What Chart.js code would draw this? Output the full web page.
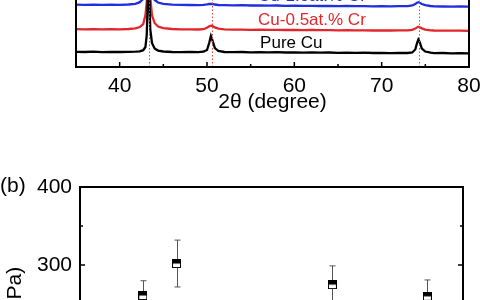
<!DOCTYPE html>
<html><head><meta charset="utf-8">
<script src="https://cdn.jsdelivr.net/npm/chart.js@4.4.1/dist/chart.umd.min.js"></script>
<style>
html,body{margin:0;padding:0;background:#fff;}
#wrap{position:relative;width:480px;height:300px;overflow:hidden;background:#fff;}
canvas{position:absolute;left:0;}
#c1{top:-60px;} #c2{top:160px;}
</style></head><body>
<div id="wrap"><canvas id="c1" width="520" height="180"></canvas><canvas id="c2" width="520" height="360"></canvas></div>
<script>
// ---- Panel (a): XRD patterns ----
const twoTheta = [35,36,37,38,39,40,41,41.8,42.3,42.7,42.95,43.1,43.2,43.3,43.4,43.5,43.7,44.0,44.4,45,46,47,48,49,49.6,50.0,50.25,50.45,50.65,50.9,51.3,52,53,54,55,56,57,58,59,60,61,62,63,64,65,66,67,68,69,70,71,72,73,73.5,73.85,74.05,74.2,74.35,74.6,75.0,75.6,76,77,78,79,80];
const pureCu = [15.2,15.0,15.3,14.9,15.1,15.0,15.2,15.3,15.6,16.8,20,32,60,150,75,38,24,18.5,16.4,15.5,15.0,14.9,15.1,14.8,15.3,17,24,31,26,19,16,15.0,14.8,15.0,14.7,14.9,14.6,14.8,14.5,14.7,14.4,14.6,14.3,14.5,14.2,14.4,14.1,14.3,14.0,14.2,13.9,14.1,14.0,14.5,17.5,24,27.5,25,18.5,15.5,14.3,13.9,14.0,13.7,13.9,13.6];
const cu05Cr = [37.8,37.6,37.9,37.6,37.8,37.7,38.0,38.6,40.0,43.0,52,65,85,170,115,70,52,44,40.5,38.8,38.0,37.7,37.6,37.5,37.8,39.3,40.8,41.4,40.9,39.6,38.3,37.6,37.3,37.4,37.2,37.3,37.1,37.2,37.0,37.1,36.9,37.0,36.8,36.9,36.7,36.8,36.6,36.7,36.5,36.6,36.5,36.6,36.7,37.2,38.4,39.6,40.2,39.7,38.6,37.4,36.7,36.5,36.4,36.3,36.4,36.2];
const cu10Cr = [62.4,62.2,62.4,62.1,62.3,62.2,62.5,63.2,64.8,68,76,88,112,190,135,88,73,67,64.5,63.2,62.4,62.1,62.0,61.9,62.1,62.6,63.0,63.2,63.0,62.5,62.0,61.8,61.7,61.8,61.5,61.6,61.4,61.5,61.2,61.3,61.1,61.2,61.0,61.1,60.9,61.0,60.8,60.9,60.7,60.8,60.6,60.8,60.9,61.5,63.0,64.3,64.8,64.3,63.0,61.8,61.0,60.7,60.5,60.4,60.5,60.3];
const seriesNames = ['Pure Cu','Cu-0.5at.% Cr','Cu-1.0at.% Cr'];
const peakLines = [43.35, 50.53, 74.31];
const xrdTicks = [40,50,60,70,80];
const xrdMinorTicks = [45,55,65,75];

// ---- Panel (b) ----
const samplePos = [1.64, 2.52, 6.59, 9.07];
const hardness = [261, 302, 275, 260];
const hardnessErr = [19, 30, 24, 21];
const hardnessTicks = [0,100,200,300,400];
const hardnessMinor = [50,150,250,350];

const F = '"Liberation Sans", Arial, Helvetica, sans-serif';
const RED = '#e2262b', BLUE = '#1f2ee0', BLACK = '#000';

const toXY = arr => twoTheta.map((x,i)=>({x, y: arr[i]}));

const xrdPlugin = {
  id:'xrdDeco',
  afterDatasetsDraw(chart){
    const {ctx, chartArea:a, scales:{x, y}} = chart;
    ctx.save();
    ctx.strokeStyle = '#d8454a'; ctx.lineWidth = 1; ctx.setLineDash([1.5,2]);
    peakLines.forEach(v=>{ const px = Math.round(x.getPixelForValue(v))+0.5; ctx.beginPath(); ctx.moveTo(px,a.bottom); ctx.lineTo(px,a.top); ctx.stroke(); });
    ctx.setLineDash([]);
    ctx.strokeStyle = BLACK; ctx.lineWidth = 2;
    ctx.strokeRect(a.left, a.top, a.right-a.left, a.bottom-a.top);
    ctx.lineWidth = 1.5;
    const tick = (v,len)=>{ const px = x.getPixelForValue(v); ctx.beginPath(); ctx.moveTo(px,a.bottom); ctx.lineTo(px,a.bottom-len); ctx.moveTo(px,a.top); ctx.lineTo(px,a.top+len); ctx.stroke(); };
    xrdTicks.forEach(v=>tick(v,5)); xrdMinorTicks.forEach(v=>tick(v,3));
    ctx.font = '17px '+F; ctx.textAlign='left'; ctx.textBaseline='middle';
    const lx = x.getPixelForValue(55.85);
    ctx.fillStyle = BLACK; ctx.fillText(seriesNames[0], lx+2, y.getPixelForValue(23.5));
    ctx.fillStyle = RED; ctx.fillText(seriesNames[1], lx, y.getPixelForValue(46.5));
    ctx.fillStyle = BLUE; ctx.fillText(seriesNames[2], lx, y.getPixelForValue(70.5));
    ctx.restore();
  }
};

new Chart(document.getElementById('c1'), {
  type:'line',
  data:{datasets:[
    {label:seriesNames[0], data:toXY(pureCu), borderColor:BLACK, borderWidth:2.3, pointRadius:0, tension:0},
    {label:seriesNames[1], data:toXY(cu05Cr), borderColor:RED, borderWidth:2.3, pointRadius:0, tension:0},
    {label:seriesNames[2], data:toXY(cu10Cr), borderColor:BLUE, borderWidth:2.3, pointRadius:0, tension:0}
  ]},
  options:{
    responsive:false, animation:false, devicePixelRatio:1,
    layout:{padding:{left:76,right:51,top:10,bottom:0}},
    plugins:{legend:{display:false}, tooltip:{enabled:false}},
    scales:{
      x:{type:'linear', min:35, max:80,
        afterBuildTicks:s=>{s.ticks = xrdTicks.map(v=>({value:v}));},
        afterFit:s=>{s.height = 53;},
        ticks:{font:{family:F,size:21}, color:BLACK, padding:7, maxRotation:0, autoSkip:false},
        grid:{display:false, drawTicks:false}, border:{display:false},
        title:{display:true, text:'2θ (degree)', font:{family:F,size:21,lineHeight:1.2}, color:BLACK, padding:{top:0,bottom:5}}
      },
      y:{display:false, min:0, max:117}
    }
  },
  plugins:[xrdPlugin]
});

const mk = document.createElement('canvas'); mk.width = 9; mk.height = 9;
(()=>{ const c = mk.getContext('2d'); c.fillStyle='#fff'; c.fillRect(0,0,9,9); c.fillStyle='#000'; c.fillRect(0,0,9,4.5); c.strokeStyle='#000'; c.lineWidth=1; c.strokeRect(0.5,0.5,8,8); })();

const bPlugin = {
  id:'bDeco',
  beforeDatasetsDraw(chart){
    const {ctx, scales:{x, y}} = chart;
    ctx.save(); ctx.strokeStyle = '#555'; ctx.lineWidth = 1;
    samplePos.forEach((p,i)=>{
      const px = Math.round(x.getPixelForValue(p))+0.5;
      const yt = y.getPixelForValue(hardness[i]+hardnessErr[i]);
      const yb = y.getPixelForValue(hardness[i]-hardnessErr[i]);
      ctx.beginPath(); ctx.moveTo(px,yt); ctx.lineTo(px,yb);
      ctx.moveTo(px-3,yt); ctx.lineTo(px+3,yt); ctx.moveTo(px-3,yb); ctx.lineTo(px+3,yb); ctx.stroke();
    });
    ctx.restore();
  },
  afterDraw(chart){
    const {ctx, chartArea:a, scales:{y}} = chart;
    ctx.save(); ctx.strokeStyle = BLACK; ctx.lineWidth = 2;
    ctx.strokeRect(a.left, a.top, a.right-a.left, a.bottom-a.top);
    ctx.lineWidth = 1.5;
    const tick = (v,len)=>{ const py = y.getPixelForValue(v); ctx.beginPath(); ctx.moveTo(a.left,py); ctx.lineTo(a.left+len,py); ctx.moveTo(a.right,py); ctx.lineTo(a.right-len,py); ctx.stroke(); };
    hardnessTicks.forEach(v=>tick(v,5)); hardnessMinor.forEach(v=>tick(v,3));
    ctx.fillStyle = BLACK; ctx.font = '21px '+F; ctx.textAlign='left'; ctx.textBaseline='middle';
    ctx.fillText('(b)', 0, 26);
    ctx.restore();
  }
};

new Chart(document.getElementById('c2'), {
  type:'scatter',
  data:{datasets:[{label:'b', data:samplePos.map((p,i)=>({x:p, y:hardness[i]})), pointStyle:mk, pointRadius:4.5, showLine:false}]},
  options:{
    responsive:false, animation:false, devicePixelRatio:1,
    layout:{padding:{left:0,right:57,top:27,bottom:13}},
    plugins:{legend:{display:false}, tooltip:{enabled:false}},
    scales:{
      x:{type:'linear', display:false, min:0, max:10},
      y:{min:0, max:400,
        afterBuildTicks:s=>{s.ticks = hardnessTicks.map(v=>({value:v}));},
        afterFit:s=>{s.width = 80;},
        ticks:{font:{family:F,size:21}, color:BLACK, padding:8},
        grid:{display:false, drawTicks:false}, border:{display:false},
        title:{display:true, text:'Hardness (MPa)', font:{family:F,size:21,lineHeight:1.2}, color:BLACK, padding:{top:3,bottom:0}}
      }
    }
  },
  plugins:[bPlugin]
});
</script>
</body></html>
